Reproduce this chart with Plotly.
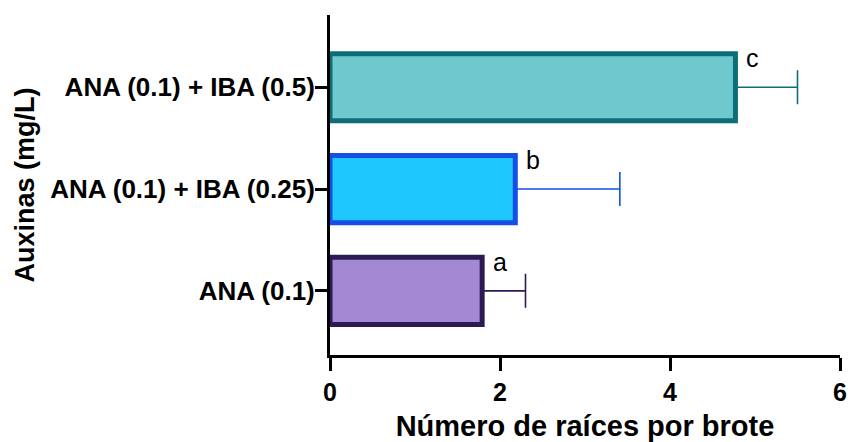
import plotly.graph_objects as go

categories = ["ANA (0.1)", "ANA (0.1) + IBA (0.25)", "ANA (0.1) + IBA (0.5)"]
means = [1.79, 2.18, 4.77]
errors = [0.51, 1.23, 0.73]
letters = ["a", "b", "c"]
fill_colors = ["#A389D4", "#1EC8FF", "#70C8CF"]
line_colors = ["#2D1A52", "#1450E6", "#0E6E78"]

FONT = "Liberation Sans, Arial, sans-serif"

fig = go.Figure()
for i, cat in enumerate(categories):
    fig.add_trace(go.Bar(
        y=[cat], x=[means[i]], orientation="h",
        width=0.66,
        marker=dict(color=fill_colors[i], line=dict(color=line_colors[i], width=5)),
        error_x=dict(type="data", array=[errors[i]], arrayminus=[0], symmetric=False,
                     color=line_colors[i], thickness=1.6, width=17),
        showlegend=False,
    ))
    fig.add_annotation(x=means[i], y=cat, text=letters[i], showarrow=False,
                       xanchor="left", yanchor="middle", xshift=9, yshift=29,
                       font=dict(family=FONT, size=25, color="black"))

fig.update_layout(
    width=848, height=442,
    margin=dict(l=330, r=8, t=15, b=87),
    plot_bgcolor="white", paper_bgcolor="white",
    font=dict(family=FONT, color="black"),
)
fig.update_xaxes(
    range=[0, 6], tickvals=[0, 2, 4, 6], ticktext=["0", "2", "4", "6"],
    showgrid=False, zeroline=False,
    showline=True, linecolor="black", linewidth=3,
    ticks="outside", ticklen=13, tickwidth=3, tickcolor="black",
    tickfont=dict(size=25, family=FONT, weight="bold"),
    title=dict(text="<b>Número de raíces por brote</b>", font=dict(size=29, family=FONT), standoff=12),
    automargin=False,
)
fig.update_yaxes(
    range=[-0.63, 2.71],
    categoryorder="array", categoryarray=categories,
    showgrid=False, zeroline=False,
    showline=True, linecolor="black", linewidth=3,
    ticks="outside", ticklen=12, tickwidth=3, tickcolor="black",
    tickfont=dict(size=26, family=FONT, weight="bold"),
    ticklabelstandoff=-5,
    title=dict(text="<b>Auxinas (mg/L)</b>", font=dict(size=27, family=FONT), standoff=8),
    automargin=False,
)
fig.write_html(
    "out.html",
    config={"displayModeBar": False},
    post_script="document.body.style.margin='0';document.body.style.overflow='hidden';",
)
